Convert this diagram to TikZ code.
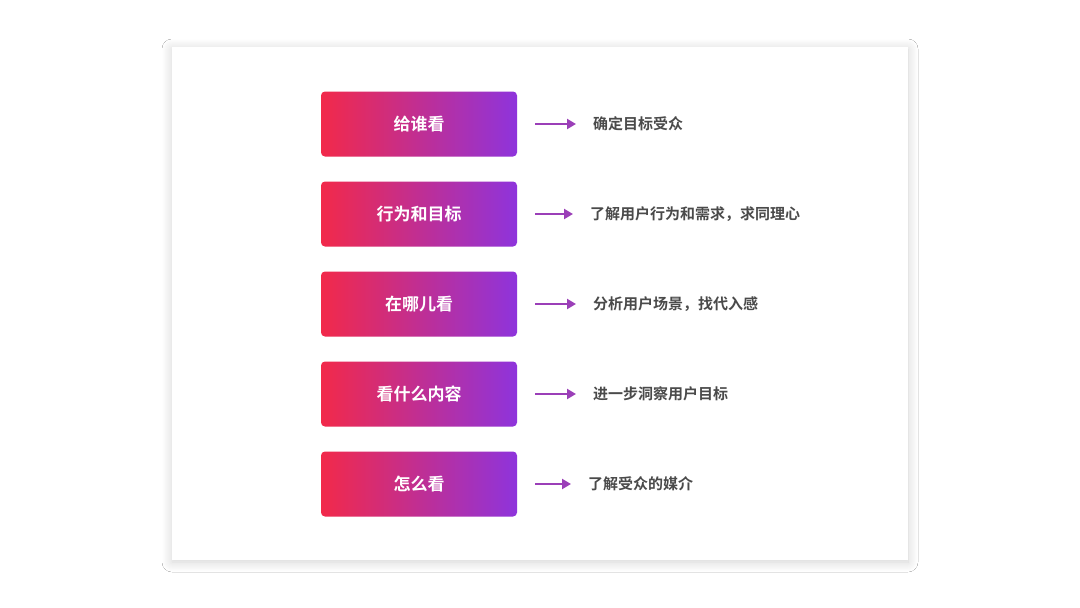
\documentclass[tikz,border=0pt]{standalone}
\usepackage{fontspec}
\setmainfont{Noto Sans CJK SC}[BoldFont={* Bold}]
\usetikzlibrary{shadows.blur,arrows.meta}
\definecolor{cred}{HTML}{F2294A}
\definecolor{cpur}{HTML}{8E34DC}
\definecolor{carr}{HTML}{9B3FB8}
\definecolor{ctxt}{HTML}{4A4A4A}
\begin{document}
\begin{tikzpicture}[x=1pt,y=-1pt,
  stepbox/.style={rounded corners=4pt,minimum width=196pt,minimum height=65pt,inner sep=0pt,
    left color=cred,right color=cpur,text=white,font=\fontsize{17}{20}\selectfont\bfseries},
  desc/.style={anchor=west,text=ctxt,font=\fontsize{15}{18}\selectfont\bfseries,inner sep=0pt},
  arr/.style={draw=carr,line width=2.2pt,-{Triangle[length=9pt,width=10pt]}}]
\useasboundingbox[fill=white] (0,0) rectangle (1080,608);
\fill[white,blur shadow={shadow blur steps=12,shadow xshift=0pt,shadow yshift=-2pt,shadow blur radius=10pt,shadow opacity=18}] (172,47) rectangle (908,560);
\foreach \i/\a/\b/\xo in {1/给谁看/确定目标受众/593,2/行为和目标/了解用户行为和需求，求同理心/590,3/在哪儿看/分析用户场景，找代入感/593,4/看什么内容/进一步洞察用户目标/593,5/怎么看/了解受众的媒介/588}{
  \pgfmathsetmacro{\yy}{124+90*(\i-1)}
  \node[stepbox] (b\i) at (419,\yy) {\a};
  \coordinate (s\i) at (535,\yy);
  \node[desc] (d\i) at (\xo,\yy) {\b};
  \draw[arr] (s\i) -- ([xshift=-17pt]d\i.west);
}
\end{tikzpicture}
\end{document}
